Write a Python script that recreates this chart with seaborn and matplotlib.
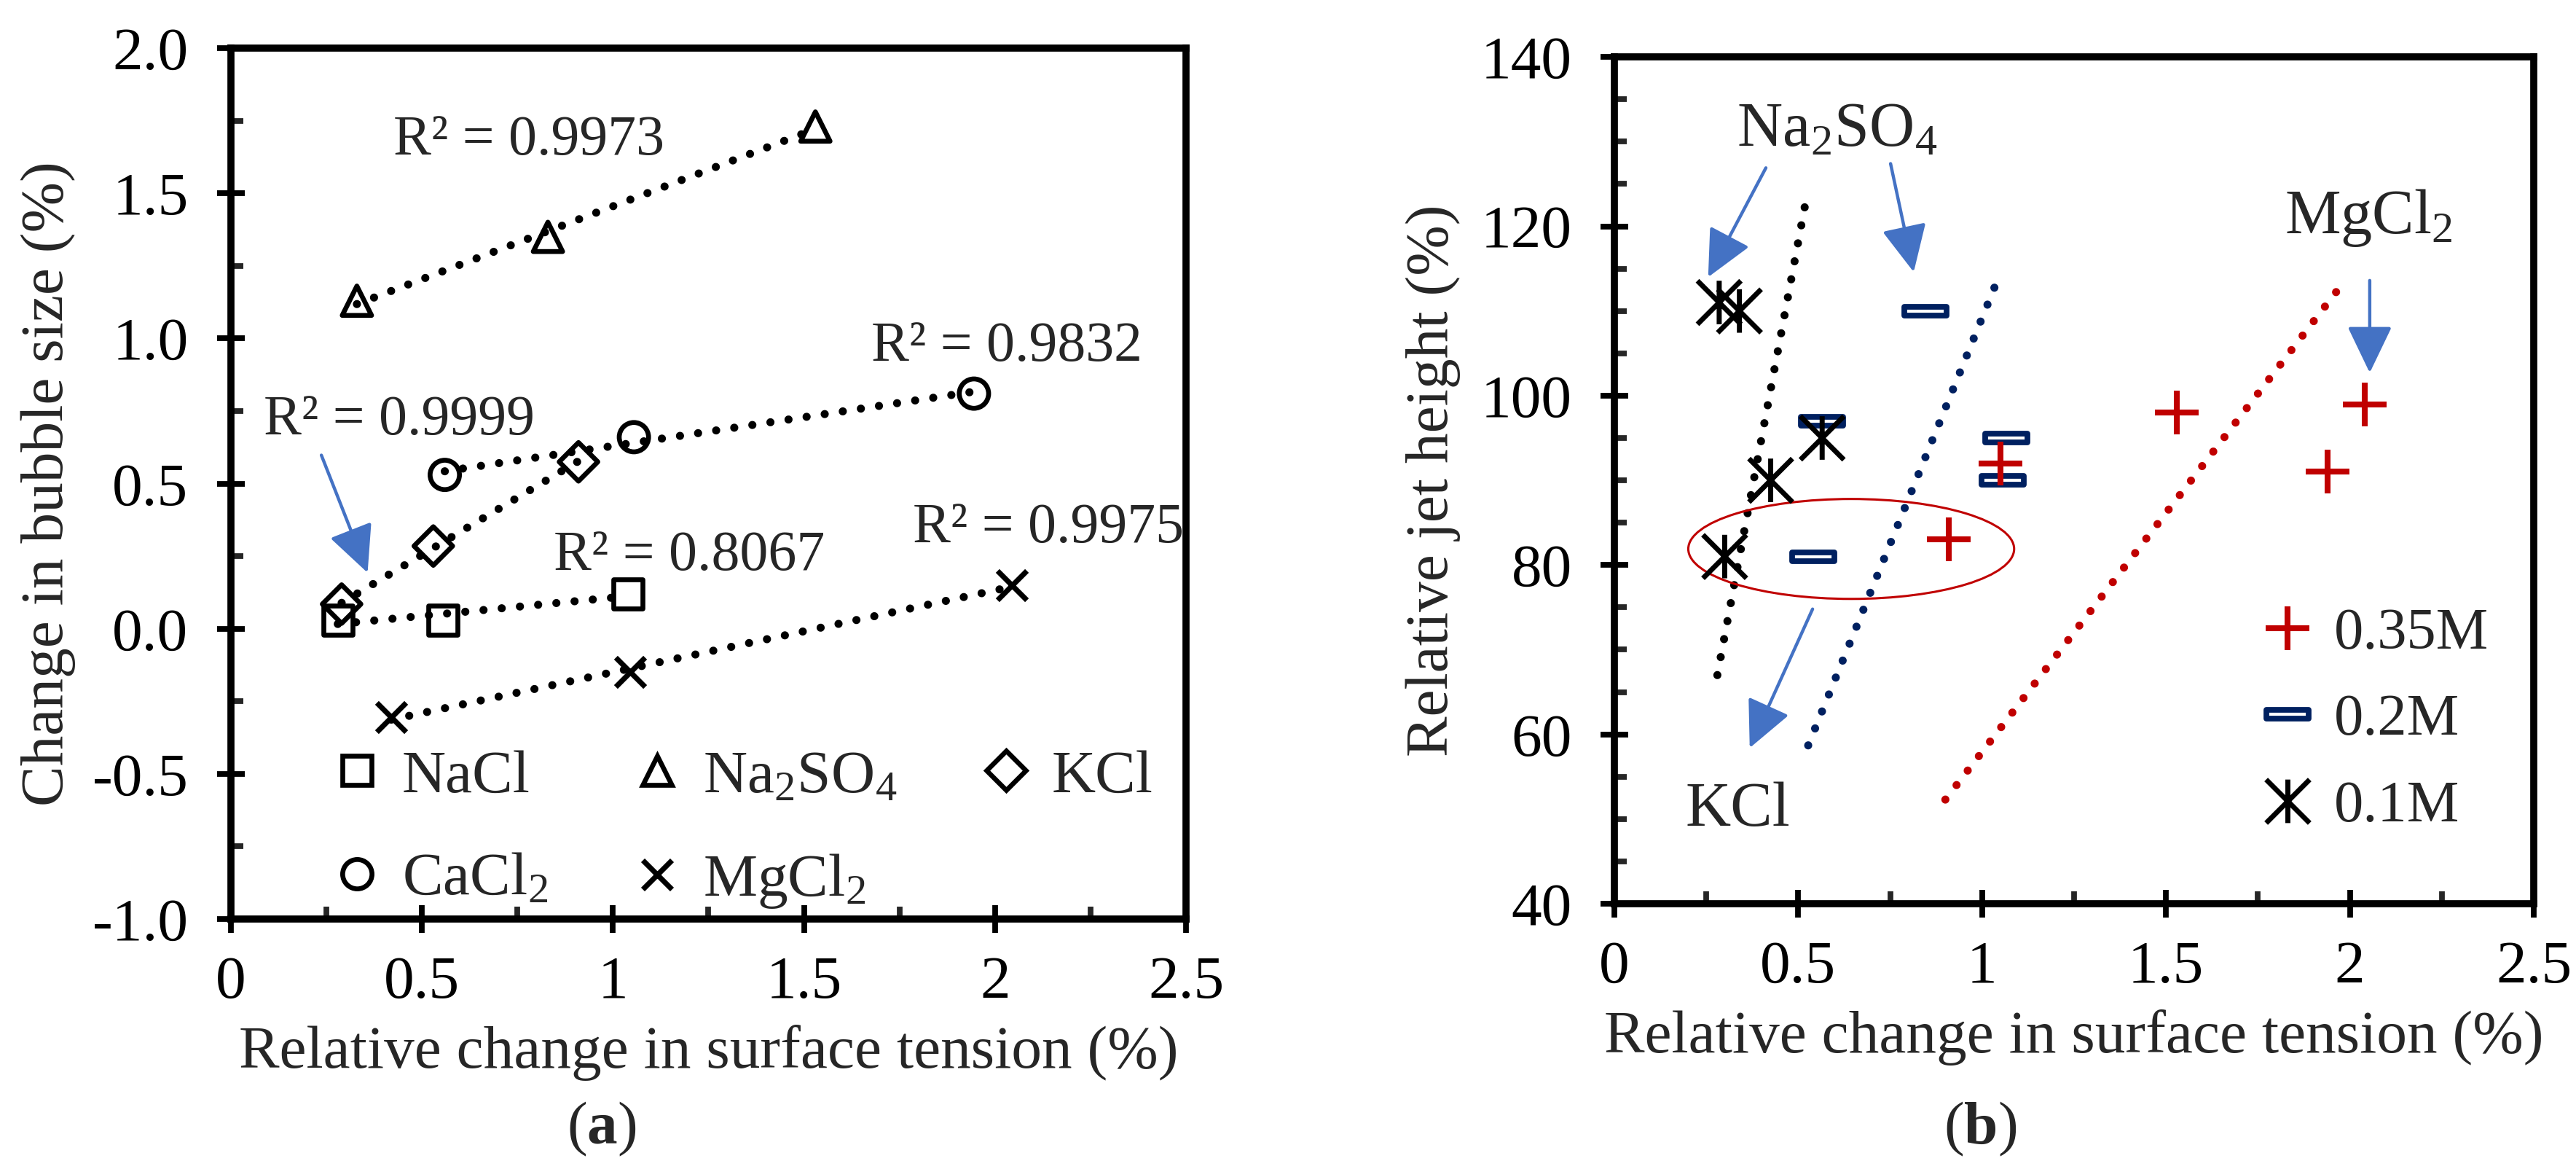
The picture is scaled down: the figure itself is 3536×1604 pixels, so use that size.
import numpy as np
import matplotlib
matplotlib.use('Agg')
import matplotlib.pyplot as plt
import seaborn as sns
from matplotlib.path import Path
from matplotlib.markers import MarkerStyle
from matplotlib.patches import Ellipse
from matplotlib.lines import Line2D
from matplotlib.ticker import MultipleLocator, FixedLocator, FixedFormatter

sns.set_style('ticks')
plt.rcParams['font.family'] = ['Liberation Serif', 'DejaVu Serif']
plt.rcParams['mathtext.fontset'] = 'custom'
plt.rcParams['mathtext.rm'] = 'Liberation Serif'
plt.rcParams['mathtext.it'] = 'Liberation Serif:italic'
plt.rcParams['mathtext.bf'] = 'Liberation Serif:bold'
plt.rcParams['axes.unicode_minus'] = False

# (a) bubble size vs surface tension
nacl_x = [0.28, 0.555, 1.04]
nacl_y = [0.03, 0.03, 0.12]
na2so4_x = [0.33, 0.83, 1.53]
na2so4_y = [1.13, 1.35, 1.73]
kcl_x = [0.29, 0.53, 0.91]
kcl_y = [0.085, 0.285, 0.575]
cacl2_x = [0.56, 1.055, 1.945]
cacl2_y = [0.53, 0.66, 0.81]
mgcl2_x = [0.42, 1.045, 2.045]
mgcl2_y = [-0.305, -0.15, 0.15]
r2_labels = ['R² = 0.9973', 'R² = 0.9999', 'R² = 0.9832', 'R² = 0.8067', 'R² = 0.9975']

# (b) jet height vs surface tension
m035_x = [0.91, 1.05, 1.53, 1.94, 2.04]
m035_y = [83, 92, 98, 91, 99]
m02_x = [0.54, 0.565, 0.845, 1.055, 1.065]
m02_y = [81, 97, 110, 90, 95]
m01_x = [0.30, 0.425, 0.565, 0.285, 0.34]
m01_y = [81, 90, 95, 111, 110]
line01_x, line01_y = [0.28, 0.525], [67, 124]
line02_x, line02_y = [0.527, 1.045], [58.7, 114]
line035_x, line035_y = [0.90, 1.985], [52.3, 113.5]

RED = '#C00000'
NAVY = '#002060'
ARROW = '#4472C4'
FS = 30
dotted = dict(lw=4.0, linestyle=(0, (0.01, 2.25)), dash_capstyle='round')

# custom markers: excel-like asterisk and flat bar
star_path = Path([(-1, -1), (1, 1), (-1, 1), (1, -1), (0, -1), (0, 1)],
                 [Path.MOVETO, Path.LINETO, Path.MOVETO, Path.LINETO, Path.MOVETO, Path.LINETO])
bar_path = Path([(-1, -0.2), (1, -0.2), (1, 0.2), (-1, 0.2), (-1, -0.2)],
                [Path.MOVETO, Path.LINETO, Path.LINETO, Path.LINETO, Path.CLOSEPOLY])


def style_axes(ax):
    for s in ax.spines.values():
        s.set_visible(True)
        s.set_linewidth(3.5)
        s.set_color('black')
    ax.tick_params(which='major', direction='inout', length=14, width=2.8,
                   labelsize=FS, colors='black', top=False, right=False)
    ax.tick_params(which='minor', direction='in', length=6, width=2.8, top=False, right=False)
    ax.tick_params(axis='x', which='major', pad=11)
    ax.tick_params(axis='y', which='major', pad=14)
    ax.grid(False)


def arrow(ax, start, tip):
    ax.annotate('', xy=tip, xytext=start,
                arrowprops=dict(arrowstyle='-|>,head_length=0.5,head_width=0.24', mutation_scale=40,
                                color=ARROW, lw=1.6, shrinkA=0, shrinkB=0))


fig = plt.figure(figsize=(17.68, 8.02), dpi=200)
ax1 = fig.add_axes([0.0896, 0.2138, 0.3708, 0.7450])
ax2 = fig.add_axes([0.6267, 0.2269, 0.3569, 0.7244])

# ---- panel a
series_a = [
    ('NaCl', nacl_x, nacl_y, 's', 14.5),
    ('Na$_2$SO$_4$', na2so4_x, na2so4_y, '^', 14.5),
    ('KCl', kcl_x, kcl_y, 'D', 13.5),
    ('CaCl$_2$', cacl2_x, cacl2_y, 'o', 14.5),
    ('MgCl$_2$', mgcl2_x, mgcl2_y, 'x', 14.5),
]
handles_a = {}
for name, xs, ys, m, ms in series_a:
    sns.regplot(x=np.array(xs), y=np.array(ys), scatter=False, ci=None, truncate=True,
                ax=ax1, color='black', line_kws=dotted)
    if m == 'x':
        sns.scatterplot(x=xs, y=ys, marker=m, s=ms ** 2, color='black', linewidth=2.6, ax=ax1, zorder=3)
        h = Line2D([], [], marker=m, ls='none', markersize=ms, color='black', markeredgewidth=2.6)
    else:
        sns.scatterplot(x=xs, y=ys, marker=m, s=ms ** 2, facecolor='none', edgecolor='black',
                        linewidth=2.4, ax=ax1, zorder=3)
        h = Line2D([], [], marker=m, ls='none', markersize=ms, markerfacecolor='none',
                   markeredgecolor='black', markeredgewidth=2.4)
    handles_a[name] = h

r2_pos = [(0.78, 1.68), (0.44, 0.716), (2.03, 0.97), (1.2, 0.25), (2.14, 0.344)]
for lab, (tx, ty) in zip(r2_labels, r2_pos):
    ax1.text(tx, ty, lab, fontsize=28, ha='center', va='center')
arrow(ax1, (0.237, 0.598), (0.358, 0.193))

order_a = ['NaCl', 'CaCl$_2$', 'Na$_2$SO$_4$', 'MgCl$_2$', 'KCl']
ax1.legend([handles_a[k] for k in order_a], order_a, ncol=3, loc='upper left',
           bbox_to_anchor=(0.10, 0.195), frameon=False, fontsize=FS, handlelength=1.0,
           handletextpad=0.25, columnspacing=1.3, labelspacing=0.78, borderpad=0, borderaxespad=0)

ax1.set_xlim(0, 2.5)
ax1.set_ylim(-1.0, 2.0)
ax1.xaxis.set_major_locator(FixedLocator([0, 0.5, 1, 1.5, 2, 2.5]))
ax1.xaxis.set_major_formatter(FixedFormatter(['0', '0.5', '1', '1.5', '2', '2.5']))
ax1.xaxis.set_minor_locator(MultipleLocator(0.25))
ax1.yaxis.set_major_locator(FixedLocator([-1, -0.5, 0, 0.5, 1, 1.5, 2]))
ax1.yaxis.set_major_formatter(FixedFormatter(['-1.0', '-0.5', '0.0', '0.5', '1.0', '1.5', '2.0']))
ax1.yaxis.set_minor_locator(MultipleLocator(0.25))
style_axes(ax1)
ax1.set_xlabel('Relative change in surface tension (%)', fontsize=FS, labelpad=7)
ax1.set_ylabel('Change in bubble size (%)', fontsize=FS, labelpad=8)

# ---- panel b
sns.lineplot(x=line01_x, y=line01_y, color='black', ax=ax2, **dotted)
sns.lineplot(x=line02_x, y=line02_y, color=NAVY, ax=ax2, **dotted)
sns.lineplot(x=line035_x, y=line035_y, color=RED, ax=ax2, **dotted)

sns.scatterplot(x=m02_x, y=m02_y, marker=bar_path, s=21 ** 2, facecolor='white', edgecolor=NAVY,
                linewidth=2.8, ax=ax2, zorder=3)
sns.scatterplot(x=m035_x, y=m035_y, marker='+', s=21.5 ** 2, color=RED, linewidth=2.9, ax=ax2, zorder=4)
sns.scatterplot(x=m01_x, y=m01_y, marker=star_path, s=21.5 ** 2, facecolor='none', edgecolor='black',
                linewidth=2.5, ax=ax2, zorder=5)

ax2.add_patch(Ellipse((0.644, 81.9), width=0.886, height=11.8, fill=False, edgecolor=RED, lw=1.1, zorder=2))

ax2.text(0.605, 131.3, 'Na$_2$SO$_4$', fontsize=31, ha='center', va='center')
ax2.text(2.05, 121.0, 'MgCl$_2$', fontsize=31, ha='center', va='center')
ax2.text(0.336, 51.0, 'KCl', fontsize=31, ha='center', va='center')
arrow(ax2, (0.412, 126.9), (0.255, 114.0))
arrow(ax2, (0.751, 127.4), (0.814, 114.6))
arrow(ax2, (0.539, 74.8), (0.368, 58.4))
arrow(ax2, (2.054, 113.6), (2.054, 102.7))

handles_b = [
    Line2D([], [], marker='+', ls='none', markersize=21.5, color=RED, markeredgewidth=2.9),
    Line2D([], [], marker=MarkerStyle(bar_path), ls='none', markersize=21, markerfacecolor='white',
           markeredgecolor=NAVY, markeredgewidth=2.8),
    Line2D([], [], marker=MarkerStyle(star_path), ls='none', markersize=21.5, markerfacecolor='none',
           markeredgecolor='black', markeredgewidth=2.5),
]
ax2.legend(handles_b, ['0.35M', '0.2M', '0.1M'], loc='upper left', bbox_to_anchor=(0.70, 0.35),
           frameon=False, fontsize=29, handlelength=1.0, handletextpad=0.3, labelspacing=0.56,
           borderpad=0, borderaxespad=0)

ax2.set_xlim(0, 2.5)
ax2.set_ylim(40, 140)
ax2.xaxis.set_major_locator(FixedLocator([0, 0.5, 1, 1.5, 2, 2.5]))
ax2.xaxis.set_major_formatter(FixedFormatter(['0', '0.5', '1', '1.5', '2', '2.5']))
ax2.xaxis.set_minor_locator(MultipleLocator(0.25))
ax2.yaxis.set_major_locator(MultipleLocator(20))
ax2.yaxis.set_minor_locator(MultipleLocator(5))
style_axes(ax2)
ax2.set_xlabel('Relative change in surface tension (%)', fontsize=FS, labelpad=7)
ax2.set_ylabel('Relative jet height (%)', fontsize=FS, labelpad=10)

fig.text(0.2336, 0.034, r'($\mathbf{a}$)', fontsize=FS, ha='center', va='center')
fig.text(0.7687, 0.034, r'($\mathbf{b}$)', fontsize=FS, ha='center', va='center')

fig.savefig('out.png', dpi=200, facecolor='white')
